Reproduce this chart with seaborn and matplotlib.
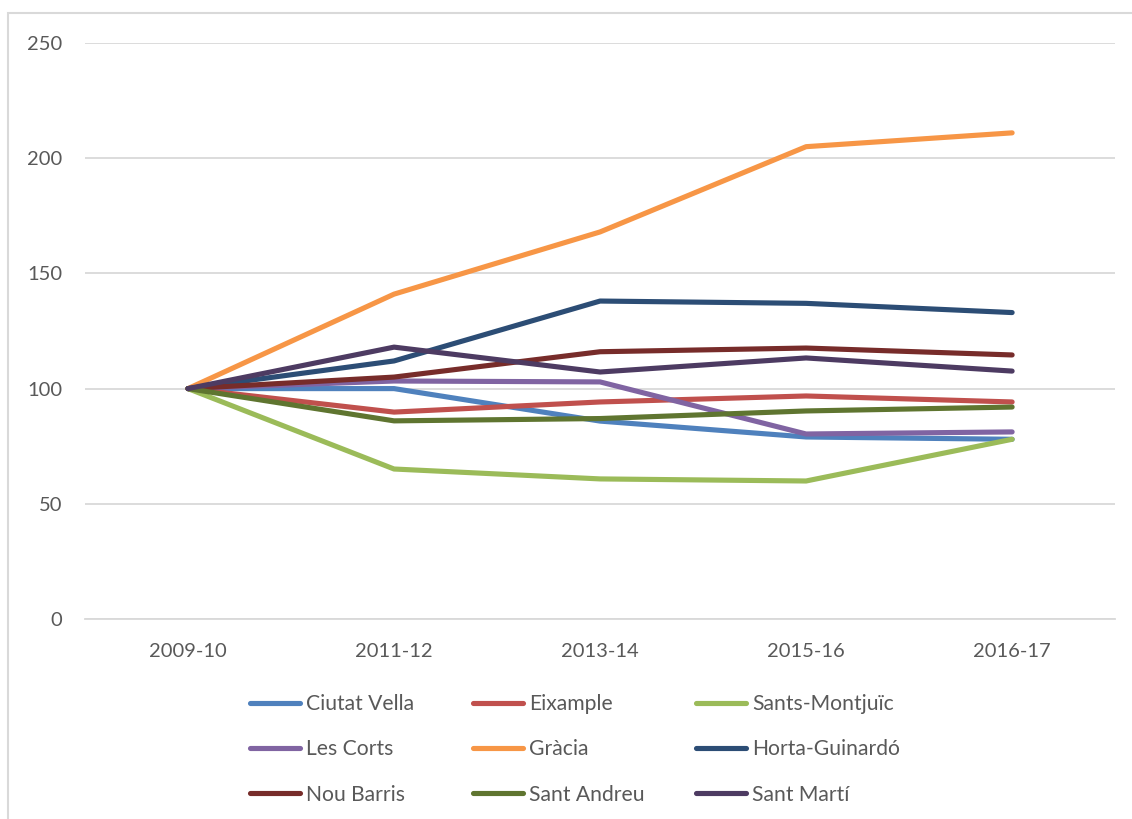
import pandas as pd
import matplotlib.pyplot as plt
import seaborn as sns
from matplotlib.patches import Rectangle

# ==========================================
# Data (index, 2009-10 = 100)
# ==========================================
periods = ["2009-10", "2011-12", "2013-14", "2015-16", "2016-17"]

districts = ["Ciutat Vella", "Eixample", "Sants-Montjuïc",
             "Les Corts", "Gràcia", "Horta-Guinardó",
             "Nou Barris", "Sant Andreu", "Sant Martí"]

ciutat_vella = [100, 100.0, 85.9, 79.0, 78.0]
eixample = [100, 89.8, 94.2, 96.8, 94.2]
sants_montjuic = [100, 65.1, 60.8, 59.9, 78.0]
les_corts = [100, 103.3, 102.9, 80.3, 81.2]
gracia = [100, 141.0, 168.0, 205.0, 211.0]
horta_guinardo = [100, 112.0, 138.0, 137.0, 133.0]
nou_barris = [100, 105.0, 116.0, 117.6, 114.6]
sant_andreu = [100, 86.0, 87.0, 90.3, 92.0]
sant_marti = [100, 118.0, 107.2, 113.3, 107.6]

colors = ["#4F81BD", "#C0504D", "#9BBB59", "#8064A2", "#F79646",
          "#2C4D75", "#772C2A", "#5F7530", "#4D3B62"]

series = [ciutat_vella, eixample, sants_montjuic, les_corts, gracia,
          horta_guinardo, nou_barris, sant_andreu, sant_marti]

# ==========================================
# Long-form table
# ==========================================
rows = []
for name, vals in zip(districts, series):
    for i, v in enumerate(vals):
        rows.append({"district": name, "pos": i, "value": v})
df = pd.DataFrame(rows)

# ==========================================
# Plot
# ==========================================
sns.set_style("white")
plt.rcParams["font.family"] = ["Lato", "DejaVu Sans"]

fig = plt.figure(figsize=(11.32, 8.19), dpi=100)
ax = fig.add_axes([0.0751, 0.2442, 0.910, 0.7033])

sns.lineplot(
    data=df, x="pos", y="value", hue="district",
    hue_order=districts, palette=colors,
    linewidth=3.7, ax=ax, legend=True,
    solid_capstyle="round", solid_joinstyle="round"
)

ax.set_xlim(-0.5, 4.5)
ax.set_ylim(0, 250)
ax.set_xticks(range(len(periods)))
ax.set_xticklabels(periods)
ax.set_yticks([0, 50, 100, 150, 200, 250])
ax.set_xlabel("")
ax.set_ylabel("")

ax.grid(axis="y", color="#D9D9D9", linewidth=1.3)
ax.set_axisbelow(True)
for s in ax.spines.values():
    s.set_visible(False)
ax.spines["bottom"].set_visible(True)
ax.spines["bottom"].set_color("#D9D9D9")
ax.spines["bottom"].set_linewidth(1.3)

ax.tick_params(axis="both", length=0, labelsize=14.5, labelcolor="#595959")
ax.tick_params(axis="y", pad=16.5)
ax.tick_params(axis="x", pad=17.5)

# legend below the plot: one legend per column so entries run row by row
handles, labels = ax.get_legend_handles_labels()
ax.get_legend().remove()
for h in handles:
    h.set_linewidth(3.7)
    h.set_solid_capstyle("round")

col_x = [249.5 / 1132, 472.5 / 1132, 695.5 / 1132]
for c, x0 in enumerate(col_x):
    idx = [c, c + 3, c + 6]
    leg = fig.legend(
        [handles[i] for i in idx], [labels[i] for i in idx],
        loc="upper left", bbox_to_anchor=(x0, 1 - 694 / 819),
        frameon=False, fontsize=15.2, handlelength=2.4,
        handletextpad=0.28, labelspacing=1.2,
        borderpad=0, borderaxespad=0
    )
    for t in leg.get_texts():
        t.set_color("#595959")

# outer chart border
fig.patches.append(Rectangle((8 / 1132, -0.01), 1.05, 1 - 13 / 819 + 0.01,
                             transform=fig.transFigure, fill=False,
                             edgecolor="#D9D9D9", linewidth=1.5))

plt.savefig("out.png", dpi=100)
plt.close()
